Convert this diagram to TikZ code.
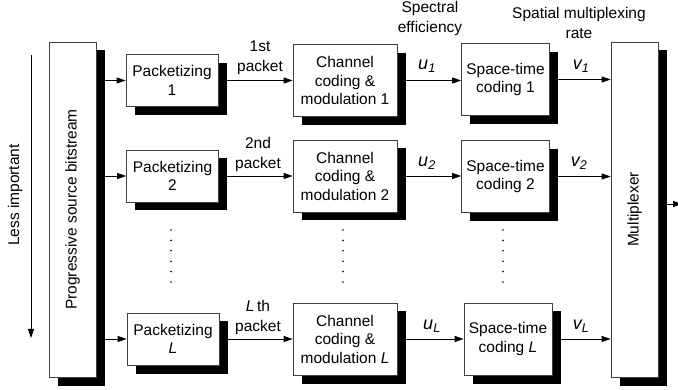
\documentclass[tikz,border=0pt]{standalone}
\usepackage{fontspec}
\setmainfont{Liberation Sans}
\usetikzlibrary{shadows,arrows.meta}
\begin{document}
\begin{tikzpicture}[x=1pt,y=-1pt,
  every node/.style={font=\fontsize{15.5}{18.5}\selectfont, inner sep=0pt, align=center},
  blk/.style={draw=black!75, line width=0.7pt, fill=white,
    drop shadow={shadow xshift=8.5pt, shadow yshift=-8.5pt, fill=black, opacity=1}},
  pkbox/.style={blk, minimum width=92pt, minimum height=52pt},
  ccbox/.style={blk, minimum width=104pt, minimum height=72pt},
  stbox/.style={blk, minimum width=88pt, minimum height=72pt},
  tall/.style={blk, minimum width=47pt, minimum height=335pt},
  arr/.style={line width=0.8pt, -{Triangle[length=9pt,width=6pt]}},
  lbl/.style={font=\fontsize{15.5}{19.5}\selectfont},
  rate/.style={font=\fontsize{18}{20}\selectfont\itshape}
]
\useasboundingbox (0,0) rectangle (678,390);

% tall boxes
\node[tall] (src) at (72.5,209.5) {};
\node[rotate=90] (srct) at (src.center) {Progressive source bitstream};
\node[tall] (mux) at (634.5,209.5) {};
\node[rotate=90] (muxt) at (mux.center) {Multiplexer};

% less important arrow
\coordinate (li1) at (31,55);
\coordinate (li2) at (31,338);
\draw[arr] (li1) -- (li2);
\node[rotate=90] (lit) at (15,195) {Less important};

% rows
\node[pkbox] (pk1) at (172,80.5) {Packetizing\\1};
\node[pkbox] (pk2) at (172.5,176) {Packetizing\\2};
\node[pkbox] (pkL) at (173,339) {Packetizing\\\textit{L}};

\node[ccbox] (cc1) at (345,80.5) {Channel\\coding \&\\modulation 1};
\node[ccbox] (cc2) at (345,176) {Channel\\coding \&\\modulation 2};
\node[ccbox] (ccL) at (345,339) {Channel\\coding \&\\modulation \textit{L}};

\node[stbox] (st1) at (505.5,79.5) {Space-time\\coding 1};
\node[stbox] (st2) at (505.5,176.5) {Space-time\\coding 2};
\node[stbox] (stL) at (508,339) {Space-time\\coding \textit{L}};

% connectors
\foreach \r in {1,2,L}{
  \draw[arr] ([xshift=8.5pt]src.east |- pk\r.west) -- (pk\r.west);
  \draw[arr] ([xshift=8.5pt]pk\r.east) -- (pk\r.east -| cc\r.west);
  \draw[arr] ([xshift=8.5pt]cc\r.east) -- (cc\r.east -| st\r.west);
  \draw[arr] ([xshift=8.5pt]st\r.east) -- (st\r.east -| mux.west);
}
\coordinate (out) at (682,204);
\draw[arr] ([xshift=8.5pt]mux.east |- out) -- (out);

% labels
\node[lbl] (p1) at (260,58) {1st\\packet};
\node[lbl] (p2) at (258,154.5) {2nd\\packet};
\node[lbl] (pL) at (258,317.5) {\textit{L}\,th\\packet};

\node[rate] (u1) at (427,66) {u\textsubscript{1}};
\node[rate] (u2) at (427,163) {u\textsubscript{2}};
\node[rate] (uL) at (432,326) {u\textsubscript{L}};
\node[rate] (v1) at (581,66) {v\textsubscript{1}};
\node[rate] (v2) at (579,163) {v\textsubscript{2}};
\node[rate] (vL) at (581,326) {v\textsubscript{L}};

\node[lbl] (se) at (430,18.5) {Spectral\\efficiency};
\node[lbl] (smr) at (579,23) {Spatial multiplexing\\rate};

% vertical dots
\foreach \x in {171,343,503}{
  \foreach \i in {0,...,5}{
    \fill (\x,{230+\i*10.4}) circle (0.9pt);
  }
}
\end{tikzpicture}
\end{document}
